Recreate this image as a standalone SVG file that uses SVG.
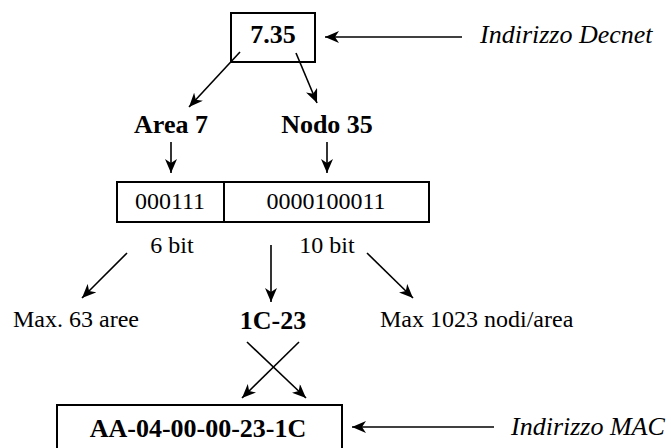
<svg xmlns="http://www.w3.org/2000/svg" width="671" height="448" viewBox="0 0 671 448">
<style>
.t{font-family:"Liberation Serif","Times New Roman",serif;fill:#000}
.b{font-weight:bold;font-size:26px}
.r{font-size:24px}
.i{font-style:italic;font-size:26px}
.box{fill:#fff;stroke:#000;stroke-width:2}
.c line{stroke:#000;stroke-width:1.6;marker-end:url(#ah)}
</style>
<defs>
<marker id="ah" markerUnits="userSpaceOnUse" markerWidth="16" markerHeight="12" refX="14" refY="6" orient="auto">
<path d="M0,0 L14,6 L0,12 L4,6 Z" fill="#000"/>
</marker>
</defs>
<g id="decnet">
<rect class="box" x="231" y="13" width="84" height="49"/>
<text class="t b" x="273" y="43" text-anchor="middle">7.35</text>
</g>
<g id="lbl-decnet"><text class="t i" x="480" y="43">Indirizzo Decnet</text></g>
<g id="area"><text class="t b" x="171" y="133" text-anchor="middle">Area 7</text></g>
<g id="nodo"><text class="t b" x="327" y="133" text-anchor="middle">Nodo 35</text></g>
<g id="bits">
<rect class="box" x="117" y="182" width="312" height="40"/>
<line x1="224" y1="182" x2="224" y2="222" stroke="#000" stroke-width="2"/>
<text class="t r" x="170" y="209" text-anchor="middle">000111</text>
<text class="t r" x="326" y="209" text-anchor="middle">0000100011</text>
</g>
<g id="b6"><text class="t r" x="172" y="253" text-anchor="middle">6 bit</text></g>
<g id="b10"><text class="t r" x="327" y="253" text-anchor="middle">10 bit</text></g>
<g id="maxaree"><text class="t r" x="13" y="327">Max. 63 aree</text></g>
<g id="hex"><text class="t b" x="273" y="329" text-anchor="middle">1C-23</text></g>
<g id="maxnodi"><text class="t r" x="380" y="327">Max 1023 nodi/area</text></g>
<g id="mac">
<rect class="box" x="57" y="405" width="285" height="60"/>
<text class="t b" x="198" y="437" text-anchor="middle">AA-04-00-00-23-1C</text>
</g>
<g id="lbl-mac"><text class="t i" x="511" y="435">Indirizzo MAC</text></g>
<g id="connectors" class="c">
<line x1="462" y1="37" x2="325" y2="37"/>
<line x1="240" y1="52" x2="189" y2="107"/>
<line x1="296" y1="53" x2="317" y2="103"/>
<line x1="171" y1="142" x2="171" y2="173"/>
<line x1="327" y1="142" x2="327" y2="173"/>
<line x1="127" y1="253" x2="82" y2="298"/>
<line x1="271" y1="245" x2="271" y2="302"/>
<line x1="367" y1="253" x2="413" y2="298"/>
<line x1="247" y1="342" x2="306" y2="398"/>
<line x1="299" y1="342" x2="242" y2="398"/>
<line x1="494" y1="427" x2="352" y2="427"/>
</g>
</svg>
